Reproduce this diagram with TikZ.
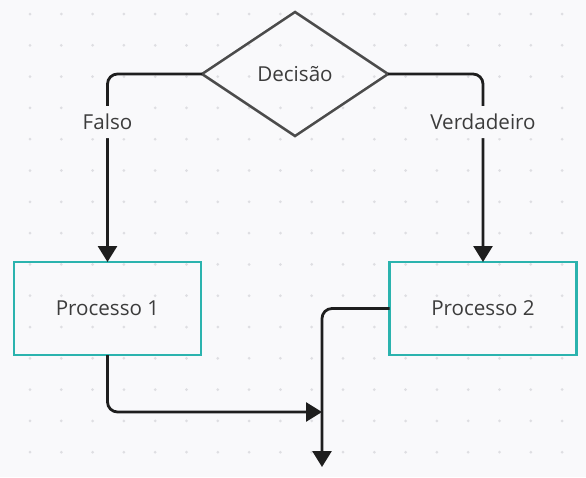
\documentclass[tikz,border=0pt]{standalone}
\usepackage{fontspec}
\setmainfont{Open Sans}
\usetikzlibrary{shapes.geometric,arrows.meta}
\definecolor{bgcol}{HTML}{F9F9FB}
\definecolor{dotcol}{HTML}{DEDEE2}
\definecolor{tealcol}{HTML}{2BB3AE}
\definecolor{inkcol}{HTML}{1E1E1E}
\definecolor{txtcol}{HTML}{3C3C3C}
\begin{document}
\begin{tikzpicture}[x=1pt,y=-1pt,
		font=\fontsize{20.6}{24}\selectfont,text=txtcol,
		decision/.style={diamond,draw=inkcol!80,line width=2.5pt,minimum width=186pt,minimum height=124pt,inner sep=0pt,outer sep=0pt},
		procbox/.style={rectangle,draw=tealcol,line width=2.5pt,minimum width=187pt,minimum height=93pt,outer sep=0pt},
		conn/.style={draw=inkcol,line width=2.8pt,rounded corners=10pt,-{Triangle[width=19pt,length=16pt]}},
		flowlabel/.style={fill=bgcol,inner sep=8pt}]
	\fill[bgcol] (0,0) rectangle (586,477);
	\useasboundingbox (0,0) rectangle (586,477);
	% grid of dots
	\foreach \i in {0,...,18}
		\foreach \j in {0,...,14}
			\fill[dotcol] (30+31.3*\i,14+31.3*\j) circle (1.5pt);
	% shapes
	\node[decision] (dec) at (295,74) {Decisão};
	\node[procbox] (p1) at (107.5,308.5) {Processo 1};
	\node[procbox] (p2) at (483,308.5) {Processo 2};
	\coordinate (join) at (322,412);
	\coordinate (exit) at (322,467);
	% connectors
	\draw[conn] (dec.west) -| node[flowlabel,pos=0.628] {Falso} (p1.north);
	\draw[conn] (dec.east) -| node[flowlabel,pos=0.628] {Verdadeiro} (p2.north);
	\draw[conn] (p1.south) |- (join);
	\draw[conn] (p2.west) -| (exit);
\end{tikzpicture}
\end{document}
